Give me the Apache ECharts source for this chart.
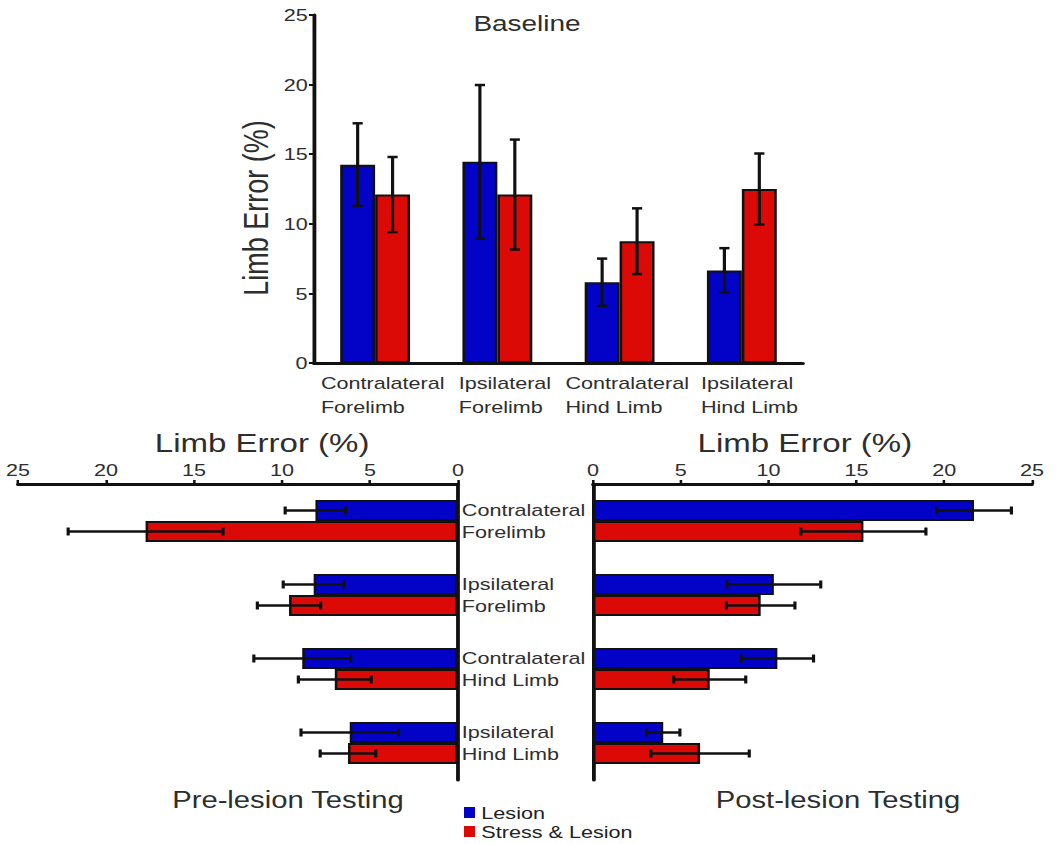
<!DOCTYPE html>
<html>
<head>
<meta charset="utf-8">
<title>Limb Error</title>
<script src="https://cdn.jsdelivr.net/npm/echarts@6/dist/echarts.min.js"></script>
<style>
html, body { margin:0; padding:0; background:#fff; overflow:hidden; }
/* the source figure is stretched sideways, so the chart is drawn narrower and widened */
#main { width:832px; height:844px; transform:scaleX(1.2704); transform-origin:0 0; }
</style>
</head>
<body>
<div id="main"></div>
<script>
// categories / legend
var limbs = ['Contralateral\nForelimb', 'Ipsilateral\nForelimb', 'Contralateral\nHind Limb', 'Ipsilateral\nHind Limb'];
var groupNames = ['Lesion', 'Stress & Lesion'];
var ticks = [0, 5, 10, 15, 20, 25];

// Baseline (mean, error)
var baseLesion    = [14.25, 14.45, 5.8, 6.65];
var baseLesionErr = [2.97, 5.52, 1.7, 1.6];
var baseStress    = [12.1, 12.1, 8.75, 12.5];
var baseStressErr = [2.7, 3.95, 2.36, 2.55];

// Pre-lesion testing
var preLesion    = [8.1, 8.2, 8.85, 6.15];
var preLesionErr = [1.72, 1.73, 2.75, 2.77];
var preStress    = [17.75, 9.6, 7.0, 6.25];
var preStressErr = [4.4, 1.8, 2.07, 1.58];

// Post-lesion testing
var postLesion    = [21.7, 10.3, 10.5, 4.0];
var postLesionErr = [2.13, 2.67, 2.06, 0.95];
var postStress    = [15.4, 9.55, 6.65, 6.1];
var postStressErr = [3.56, 1.95, 2.05, 2.8];

/*************************************************************
* layout helpers
*************************************************************/
var SX = 1057 / 832;
function px(x) { return x / SX; }
var FONT = "'Liberation Sans', Arial, sans-serif";
var TXT = '#2e2e2e';
var INK = '#111';
var BLUE = '#0303c8';
var RED = '#dc0a06';
var BW_TOP = 27.5;   // bar width, baseline chart
var BW_BOT = 21;     // bar height, lower charts

function leftLines(v) {
    return v.split('\n').map(function (s) { return '{a|' + s + '}'; }).join('\n');
}

function errBar(horiz, off) {
    return function (params, api) {
        var m = api.value(horiz ? 0 : 1);
        var c = api.value(horiz ? 1 : 0);
        var e = api.value(2);
        var a, b, caps;
        var k = 4;
        if (horiz) {
            a = api.coord([m - e, c]); b = api.coord([m + e, c]);
            a[1] += off; b[1] += off;
            caps = [[a[0], a[1] - k, a[0], a[1] + k], [b[0], b[1] - k, b[0], b[1] + k]];
        } else {
            a = api.coord([c, m - e]); b = api.coord([c, m + e]);
            a[0] += off; b[0] += off;
            caps = [[a[0] - k, a[1], a[0] + k, a[1]], [b[0] - k, b[1], b[0] + k, b[1]]];
        }
        var st = { stroke: INK, lineWidth: 2.5 };
        var kids = [{ type: 'line', shape: { x1: a[0], y1: a[1], x2: b[0], y2: b[1] }, style: st }];
        caps.forEach(function (p) {
            kids.push({ type: 'line', shape: { x1: p[0], y1: p[1], x2: p[2], y2: p[3] }, style: st });
        });
        return { type: 'group', children: kids };
    };
}

function errData(vals, errs, horiz) {
    return vals.map(function (v, i) { return horiz ? [v, i, errs[i]] : [i, v, errs[i]]; });
}

var lineStyle = { color: INK, width: 3 };
var tickStyle = { color: INK, width: 2 };

function valueAxis(extra) {
    var ax = {
        type: 'value', min: ticks[0], max: ticks[ticks.length - 1], interval: 5,
        splitLine: { show: false },
        axisLine: { show: true, lineStyle: lineStyle },
        axisTick: { show: true, length: 4, lineStyle: tickStyle },
        axisLabel: { fontSize: 17, color: TXT, fontFamily: FONT, margin: 6 },
        nameTextStyle: { fontFamily: FONT, color: TXT }
    };
    for (var k in extra) ax[k] = extra[k];
    return ax;
}

function bar(name, data, xi, bw, color) {
    return {
        type: 'bar', name: name, xAxisIndex: xi, yAxisIndex: xi, data: data,
        barWidth: bw, barGap: '0%',
        itemStyle: { color: color, borderColor: INK, borderWidth: 2 }
    };
}

function err(vals, errs, xi, horiz, off) {
    return {
        type: 'custom', xAxisIndex: xi, yAxisIndex: xi, z: 10, silent: true,
        renderItem: errBar(horiz, off),
        encode: { x: 0, y: 1 },
        data: errData(vals, errs, horiz)
    };
}

var chart = echarts.init(document.getElementById('main'), null, { renderer: 'svg' });

var option = {
    animation: false,
    backgroundColor: '#fff',
    textStyle: { fontFamily: FONT },
    title: [
        { text: 'Baseline', left: px(527), top: 12, textAlign: 'center', padding: 0,
          textStyle: { fontSize: 22, fontWeight: 'normal', color: TXT, fontFamily: FONT } },
        { text: 'Pre-lesion Testing', left: px(288), top: 789, textAlign: 'center', padding: 0,
          textStyle: { fontSize: 23, fontWeight: 'normal', color: TXT, fontFamily: FONT } },
        { text: 'Post-lesion Testing', left: px(838), top: 789, textAlign: 'center', padding: 0,
          textStyle: { fontSize: 23, fontWeight: 'normal', color: TXT, fontFamily: FONT } }
    ],
    legend: {
        data: groupNames, orient: 'vertical', left: px(464), top: 804, padding: 0,
        icon: 'rect', itemWidth: px(11), itemHeight: 11, itemGap: 2,
        itemStyle: { borderWidth: 0 },
        textStyle: { fontSize: 17, color: '#222', fontFamily: FONT }
    },
    grid: [
        { left: px(314), top: 15, width: px(803) - px(314), height: 348 },
        { left: px(18), top: 484, width: px(458) - px(18), height: 296 },
        { left: px(593), top: 484, width: px(1032) - px(593), height: 296 }
    ],
    xAxis: [
        {
            gridIndex: 0, type: 'category', data: limbs, position: 'bottom',
            axisLine: { lineStyle: lineStyle },
            axisTick: { length: 4, lineStyle: tickStyle },
            axisLabel: {
                interval: 0, margin: 8, formatter: leftLines, padding: [0, 0, 0, 12],
                rich: { a: { align: 'left', fontSize: 17, lineHeight: 24, color: TXT, fontFamily: FONT } }
            }
        },
        valueAxis({
            gridIndex: 1, inverse: true, position: 'top',
            name: 'Limb Error (%)', nameLocation: 'middle', nameGap: 28,
            nameTextStyle: { fontSize: 26, color: TXT, fontFamily: FONT, padding: [0, 0, 0, 38] }
        }),
        valueAxis({
            gridIndex: 2, position: 'top',
            name: 'Limb Error (%)', nameLocation: 'middle', nameGap: 28,
            nameTextStyle: { fontSize: 26, color: TXT, fontFamily: FONT, padding: [0, 12, 0, 0] }
        })
    ],
    yAxis: [
        valueAxis({
            gridIndex: 0, position: 'left',
            axisLabel: { fontSize: 17, color: TXT, fontFamily: FONT, margin: 5 },
            name: 'Limb Error (%)', nameLocation: 'middle', nameGap: 32,
            nameTextStyle: { fontSize: 27, color: TXT, fontFamily: FONT, padding: [0, 38, 0, 0] }
        }),
        {
            gridIndex: 1, type: 'category', data: limbs, inverse: true, position: 'right',
            axisLine: { lineStyle: lineStyle },
            axisTick: { length: 4, lineStyle: tickStyle },
            axisLabel: { interval: 0, margin: 3, fontSize: 17, lineHeight: 22, color: TXT, fontFamily: FONT }
        },
        {
            gridIndex: 2, type: 'category', data: limbs, inverse: true, position: 'left',
            axisLine: { lineStyle: lineStyle },
            axisTick: { length: 4, lineStyle: tickStyle },
            axisLabel: { show: false }
        }
    ],
    series: [
        bar(groupNames[0], baseLesion, 0, BW_TOP, BLUE),
        bar(groupNames[1], baseStress, 0, BW_TOP, RED),
        bar(groupNames[0], preLesion, 1, BW_BOT, BLUE),
        bar(groupNames[1], preStress, 1, BW_BOT, RED),
        bar(groupNames[0], postLesion, 2, BW_BOT, BLUE),
        bar(groupNames[1], postStress, 2, BW_BOT, RED),
        err(baseLesion, baseLesionErr, 0, false, -BW_TOP / 2),
        err(baseStress, baseStressErr, 0, false, BW_TOP / 2),
        err(preLesion, preLesionErr, 1, true, -BW_BOT / 2),
        err(preStress, preStressErr, 1, true, BW_BOT / 2),
        err(postLesion, postLesionErr, 2, true, -BW_BOT / 2),
        err(postStress, postStressErr, 2, true, BW_BOT / 2)
    ]
};
chart.setOption(option);
</script>
</body>
</html>
